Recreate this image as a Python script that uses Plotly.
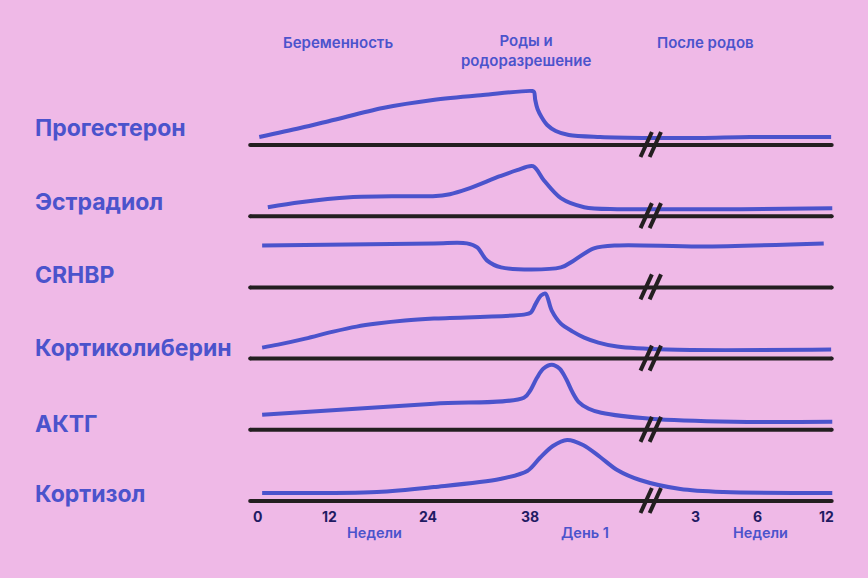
import plotly.graph_objects as go

BG = "#EFB9E7"
BLUE = "#4B53CC"
INK = "#231F20"
NAVY = "#1F1B63"

hormones = ["Прогестерон", "Эстрадиол", "CRHBP", "Кортиколиберин", "АКТГ", "Кортизол"]

# timeline position: 0 = start of pregnancy, 48 = week 38 / birth, 100 = 12 weeks postpartum
prog_x = [0.4, 7.6, 13.4, 22.1, 30.9, 39.7, 48.4, 48.7, 48.9, 49.3, 50.0, 51.0, 52.5, 54.8, 60.3, 69.2, 77.9, 86.6, 100.9]
prog_y = [8, 17, 25, 37, 45, 50, 54, 53, 45, 36, 28, 20, 14, 10, 8, 7, 7, 8, 8]

estr_x = [1.9, 7.6, 16.3, 25.1, 30.9, 33.9, 36.9, 42.7, 45.7, 48.5, 50.4, 53.4, 57.5, 63.3, 69.2, 85.0, 101.1]
estr_y = [9, 14, 19, 20, 20, 22, 27, 40, 46, 50, 36, 18, 9, 7, 7, 7, 8]

crhbp_x = [0.9, 31.1, 36.9, 38.7, 40.4, 42.9, 53.4, 55.7, 59.2, 63.3, 78.0, 99.6]
crhbp_y = [42, 44, 44, 40, 27, 20, 20, 27, 39, 42, 41, 44]

crh_x = [0.9, 3.7, 8.5, 13.4, 17.5, 21.1, 26.0, 31.1, 46.9, 48.1, 49.0, 49.9, 50.7, 51.8, 53.4, 55.5, 57.5, 60.0, 63.3, 72.1, 100.9]
crh_y = [11, 14, 20, 27, 32, 35, 38, 40, 44, 46, 55, 63, 65, 48, 35, 27, 21, 16, 12, 9, 9]

acth_x = [0.9, 31.1, 46.9, 48.1, 49.2, 50.3, 51.8, 53.2, 54.4, 55.4, 56.5, 58.3, 60.5, 69.2, 83.8, 101.1]
acth_y = [15, 26, 32, 40, 52, 61, 65, 61, 50, 38, 28, 21, 17, 11, 8, 8]

cort_x = [0.9, 21.1, 31.1, 42.7, 47.5, 49.7, 52.0, 54.5, 57.3, 60.3, 63.3, 67.3, 74.4, 82.0, 101.1]
cort_y = [8, 9, 14, 22, 30, 43, 55, 61, 56, 44, 31, 21, 12, 9, 8]

curves = [(prog_x, prog_y), (estr_x, estr_y), (crhbp_x, crhbp_y),
          (crh_x, crh_y), (acth_x, acth_y), (cort_x, cort_y)]

tick_pos = [0, 12.8, 30.1, 48.0, 77.0, 88.0, 100.0]
tick_text = ["0", "12", "24", "38", "3", "6", "12"]

phase_pos = [14.2, 47.3, 78.9]
phase_text = ["Беременность", "Роды и<br>родоразрешение", "После родов"]

unit_pos = [20.6, 57.6, 88.4]
unit_text = ["Недели", "День 1", "Недели"]

break_pos = 69.2
axis_start, axis_end = -1.2, 101.0
row_gap = 71.2

fig = go.Figure()

for i, (xs, ys) in enumerate(curves):
    base = -i * row_gap
    # baseline
    fig.add_trace(go.Scatter(
        x=[axis_start, axis_end], y=[base, base],
        mode="lines+markers",
        line=dict(color=INK, width=4),
        marker=dict(color=INK, size=4),
        hoverinfo="skip", showlegend=False,
    ))
    # hormone curve
    fig.add_trace(go.Scatter(
        x=xs, y=[base + v for v in ys],
        mode="lines",
        line=dict(color=BLUE, width=4, shape="spline", smoothing=0.9),
        name=hormones[i], showlegend=False,
    ))
    # "//" break marks
    sx, sy = [], []
    for off in (-0.8, 0.8):
        sx += [break_pos + off - 1.0, break_pos + off + 1.0, None]
        sy += [base - 12, base + 13, None]
    fig.add_trace(go.Scatter(
        x=sx, y=sy, mode="lines",
        line=dict(color=INK, width=4),
        hoverinfo="skip", showlegend=False,
    ))

annotations = []

label_off = [17, 14, 12, 11, 6, 7]
for i, name in enumerate(hormones):
    annotations.append(dict(
        x=33 / 868, xref="paper", xanchor="left",
        y=-i * row_gap + label_off[i], yref="y", yanchor="middle",
        text=name, showarrow=False,
        font=dict(family="Inter", size=23, color=BLUE, weight=700),
    ))

for p, t in zip(phase_pos, phase_text):
    annotations.append(dict(
        x=p, y=103 if "<br>" not in t else 95, xref="x", yref="y",
        text=t, showarrow=False, yanchor="middle",
        font=dict(family="Inter", size=15, color=BLUE, weight=600),
    ))

for p, t in zip(tick_pos, tick_text):
    annotations.append(dict(
        x=p, y=-371, xref="x", yref="y",
        text=t, showarrow=False, yanchor="middle",
        font=dict(family="Inter", size=14, color=NAVY, weight=700),
    ))

for p, t in zip(unit_pos, unit_text):
    annotations.append(dict(
        x=p, y=-387, xref="x", yref="y",
        text=t, showarrow=False, yanchor="middle",
        font=dict(family="Inter", size=14.5, color=BLUE, weight=600),
    ))

fig.update_layout(
    width=868, height=578,
    margin=dict(l=0, r=0, t=0, b=0),
    paper_bgcolor=BG, plot_bgcolor=BG,
    xaxis=dict(range=[-45.17, 107.38], visible=False, fixedrange=True),
    yaxis=dict(range=[-433, 145], visible=False, fixedrange=True),
    annotations=annotations,
    showlegend=False,
)

fig.write_html("out.html", config={"displayModeBar": False},
               post_script="document.body.style.margin='0';")
